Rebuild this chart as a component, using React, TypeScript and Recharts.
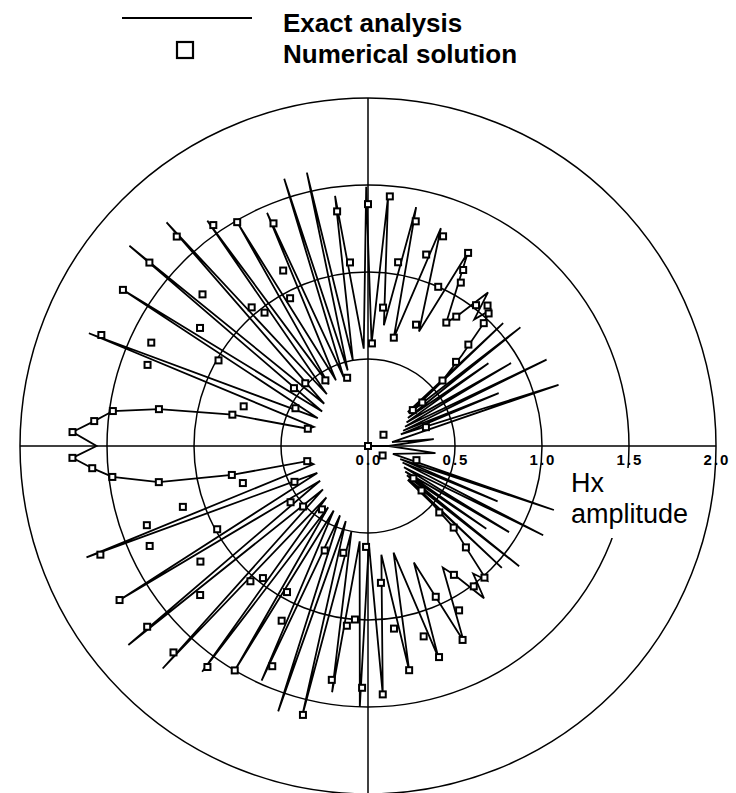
import React from "react";
import { RadarChart, Radar, PolarGrid, PolarAngleAxis, PolarRadiusAxis } from "recharts";

// [angle in degrees, counter-clockwise from the +x axis, Hx amplitude]
type Pt = [number, number];

// exact analysis, read lobe by lobe going counter-clockwise
const exactRightUpper: Pt[] = [
  [0, 0.12], [6, 0.38], [9, 0.14], [17.8, 1.15], [19.5, 0.2], [22, 0.81], [23.5, 0.22],
  [25.8, 1.14], [27.5, 0.24], [30.1, 0.95], [31.5, 0.26], [34.5, 0.84], [35, 0.28],
  [37.9, 1.11], [38.5, 0.3], [42.3, 1.05], [40.5, 0.3], [41.3, 0.57], [44, 0.75],
  [46.7, 0.97], [48, 1.05], [50, 0.95], [52, 1.12], [55.7, 0.9], [57.6, 0.84],
];
const exactUpperLobes: Pt[] = [
  [62.7, 1.25], [66, 0.72], [71.5, 1.32], [76.6, 0.64], [78.6, 1.4], [82.5, 0.7],
  [85.4, 1.44], [88, 0.59], [90.4, 1.49], [92.5, 0.56], [97.5, 1.45], [100, 0.5],
  [102.6, 1.61], [105, 0.45], [107.4, 1.61], [109.5, 0.42], [113.4, 1.46], [116, 0.42],
  [120.3, 1.49], [122.5, 0.42], [125.5, 1.59], [128.5, 0.38], [132, 1.73], [136, 0.35],
  [140, 1.79], [143, 0.33], [147.5, 1.69], [151, 0.33], [158, 1.73], [160.5, 0.33],
];
const exactMainLobe: Pt[] = [
  [164, 0.36], [167, 0.8], [170, 1.22], [172.2, 1.48], [174.8, 1.58], [177.3, 1.7],
  [180, 1.56], [182.3, 1.7], [184.6, 1.59], [186.9, 1.48], [189.8, 1.22], [192, 0.8],
  [194, 0.36],
];
const exactLowerLobes: Pt[] = [
  [198.5, 0.33], [201.6, 1.74], [208, 0.33], [211.8, 1.68], [216, 0.34], [219.7, 1.79],
  [224, 0.36], [227.3, 1.74], [231, 0.38], [233.7, 1.61], [237, 0.42], [239.3, 1.5],
  [242, 0.42], [245.6, 1.48], [248, 0.43], [251.3, 1.61], [253.5, 0.45], [256.3, 1.6],
  [259, 0.5], [261.7, 1.43], [265, 0.55], [268.2, 1.5], [270.5, 0.56], [273.4, 1.43],
  [277, 0.63], [280.4, 1.31], [283.5, 0.63], [288.4, 1.28], [291.5, 0.72], [296.1, 1.25],
  [301.6, 0.82],
];
const exactRightLower: Pt[] = [
  [304, 0.9], [307.3, 1.1], [309.5, 0.95], [311.5, 1.03], [314, 0.81], [316.4, 0.68],
  [318, 0.5], [319.5, 0.3], [317.7, 1.04], [320.5, 0.3], [321.5, 1.11], [323, 0.28],
  [325, 0.83], [325.5, 0.26], [328.6, 0.95], [329.5, 0.24], [333, 1.13], [334.5, 0.22],
  [336.9, 0.81], [338, 0.2], [341, 1.13], [342.5, 0.15], [354, 0.39], [360, 0.12],
];

// numerical solution (square markers)
const numUpper: Pt[] = [
  [36, 0.11], [18, 0.35], [38.7, 0.33], [38.7, 0.4], [41.3, 0.57], [43.7, 0.7],
  [45.3, 0.82], [46.7, 0.97], [47.7, 1.03], [49.6, 1.06], [52.5, 1.02], [55.7, 0.9],
  [57.6, 0.84], [60.4, 1.08], [61.6, 1.15], [62.6, 1.25], [66.2, 1.0], [68.4, 0.75],
  [70.3, 1.28], [73.1, 1.15], [76.6, 0.64], [78, 1.32], [80.7, 1.07], [83.8, 0.8],
  [85, 1.44], [87.8, 0.59], [90, 1.39], [95.6, 1.06], [97.5, 1.36], [107, 0.41],
  [113, 1.39], [115.8, 1.12], [117.8, 0.96], [120.3, 1.49], [123, 0.45], [125, 1.55],
  [127.8, 0.97], [130, 1.04], [132.4, 1.63], [135, 0.51], [137.5, 1.29], [140, 1.64],
  [142, 0.54], [144.9, 1.18], [147.5, 1.67], [150.2, 0.99], [152.5, 0.47], [154.5, 1.38],
  [157.4, 1.66], [159.8, 1.35], [162.3, 0.75], [164, 0.36], [167, 0.8], [170, 1.22],
  [172.2, 1.48], [174.8, 1.58], [177.3, 1.7],
];
const numLower: Pt[] = [
  [182.3, 1.7], [184.6, 1.59], [186.9, 1.48], [189.8, 1.22], [192, 0.8], [194, 0.36],
  [196.5, 0.75], [198.2, 1.12], [199.7, 1.35], [202.1, 1.66], [204.6, 1.38], [206, 0.47],
  [208.9, 0.99], [211.8, 1.68], [214.6, 1.17], [216, 0.55], [219.3, 1.64], [221.6, 1.29],
  [223, 0.51], [226.7, 1.63], [229, 1.03], [231.5, 0.97], [234, 0.45], [234, 1.57],
  [239.3, 1.5], [241, 0.96], [243.7, 1.12], [246.5, 1.38], [247.5, 0.65], [256.4, 1.59],
  [257, 0.63], [261.2, 1.36], [263.3, 1.04], [265.7, 1.0], [268.6, 1.39], [268.9, 0.58],
  [273.4, 1.43], [275.4, 0.79], [278.1, 1.06], [280.4, 1.31], [286.3, 1.14], [288.6, 1.28],
  [294.2, 0.95], [296, 1.24], [299, 1.08], [303.7, 0.89], [307, 1.01], [311.5, 1.01],
  [314, 0.81], [316.4, 0.68], [317, 0.56], [320.3, 0.4], [324.6, 0.32], [327, 0.1],
  [343.7, 0.29],
];

const radiusTicks = [0, 0.5, 1.0, 1.5, 2.0];
const axisAngles = [0, 90, 180, 270];

const W = 736;
const H = 793;
const CX = 368;
const CY = 446;
const OUTER = 348;

const exactCurve = [...exactRightUpper, ...exactUpperLobes, ...exactMainLobe, ...exactLowerLobes, ...exactRightLower];
const numPoints = [...numUpper, ...numLower];

const data = [
  ...exactCurve.map(([angle, hx]) => ({ angle, exact: hx })),
  ...numPoints.map(([angle, hx]) => ({ angle, num: hx })),
];

const Square = (p: any) => {
  if (!Number.isFinite(p.cx) || !Number.isFinite(p.cy)) return <g key={`sq-${p.index}`} />;
  return (
    <rect
      key={`sq-${p.index}`}
      x={p.cx - 3}
      y={p.cy - 3}
      width={6}
      height={6}
      fill="#fff"
      stroke="#000"
      strokeWidth={2}
    />
  );
};

const RadiusTick = ({ x, y, payload }: any) => (
  <text
    x={x + 1}
    y={y + 19}
    textAnchor="middle"
    fontFamily="'Liberation Sans', Arial, sans-serif"
    fontWeight="bold"
    fontSize={15}
    letterSpacing={2}
    fill="#000"
  >
    {Number(payload.value).toFixed(1)}
  </text>
);

const font = "'Liberation Sans', Arial, sans-serif";

export default function App() {
  return (
    <div style={{ position: "fixed", left: 0, top: 0, width: W, height: H, background: "#fff" }}>
      <RadarChart
        width={W}
        height={H}
        data={data}
        cx={CX}
        cy={CY}
        innerRadius={0}
        outerRadius={OUTER}
        startAngle={0}
        endAngle={360}
        margin={{ top: 0, right: 0, bottom: 0, left: 0 }}
      >
        <PolarGrid
          gridType="circle"
          polarAngles={axisAngles}
          polarRadius={radiusTicks.slice(1).map((t) => (t / 2) * OUTER)}
          stroke="#000"
          strokeWidth={1.5}
          strokeOpacity={1}
        />
        <PolarAngleAxis type="number" dataKey="angle" domain={[0, 360]} tick={false} axisLine={false} tickLine={false} />
        <PolarRadiusAxis
          angle={0}
          type="number"
          domain={[0, 2]}
          ticks={radiusTicks}
          tick={<RadiusTick />}
          axisLine={false}
          tickLine={false}
        />
        <Radar
          dataKey="exact"
          stroke="#000"
          strokeWidth={1.8}
          fill="none"
          fillOpacity={0}
          dot={false}
          connectNulls
          isAnimationActive={false}
        />
        <Radar
          dataKey="num"
          stroke="none"
          fill="none"
          fillOpacity={0}
          dot={Square}
          connectNulls
          isAnimationActive={false}
        />
      </RadarChart>
      <svg
        width={W}
        height={H}
        style={{ position: "absolute", left: 0, top: 0, pointerEvents: "none" }}
      >
        <line x1={122} y1={18} x2={252} y2={18} stroke="#000" strokeWidth={2} />
        <rect x={177} y={42} width={16} height={16} fill="#fff" stroke="#000" strokeWidth={2.2} />
        <text x={283} y={32} fontFamily={font} fontWeight="bold" fontSize={26}>Exact analysis</text>
        <text x={283} y={63} fontFamily={font} fontWeight="bold" fontSize={26}>Numerical solution</text>
        <rect x={566} y={468} width={134} height={70} fill="#fff" />
        <text x={571} y={492} fontFamily={font} fontSize={27}>Hx</text>
        <text x={571} y={523} fontFamily={font} fontSize={27}>amplitude</text>
      </svg>
    </div>
  );
}
